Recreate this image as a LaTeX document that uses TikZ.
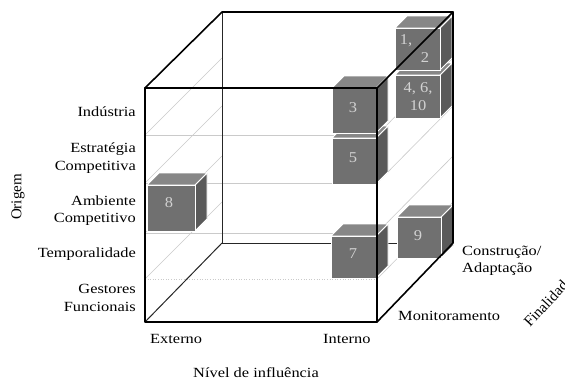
\documentclass[tikz,border=0pt]{standalone}
\usepackage{fontspec}
\setmainfont{Liberation Serif}
\definecolor{cfront}{HTML}{707070}
\definecolor{ctop}{HTML}{878787}
\definecolor{cside}{HTML}{5A5A5A}
\definecolor{cnum}{HTML}{D2D2D2}
\definecolor{cgrid}{HTML}{CACACA}
\newcommand{\gcube}[4]{%
  \filldraw[cubeline,fill=cside] (#3,#2) -- (#3+12,#2-12) -- (#3+12,#4-12) -- (#3,#4) -- cycle;
  \filldraw[cubeline,fill=ctop] (#1,#2) -- (#1+12,#2-12) -- (#3+12,#2-12) -- (#3,#2) -- cycle;
  \filldraw[cubeline,fill=cfront] (#1,#2) rectangle (#3,#4);
}
\begin{document}
\begin{tikzpicture}[x=1pt,y=-1pt,
  cubeline/.style={draw=white,line width=0.9pt},
  edge/.style={line width=1.6pt,line cap=round,line join=round},
  backedge/.style={line width=1.0pt,draw=black!85},
  grid/.style={draw=cgrid,line width=0.6pt},
  lbl/.style={font=\fontsize{14}{16}\selectfont,xscale=1.17,transform shape,inner sep=0pt},
  rlbl/.style={font=\fontsize{15}{16}\selectfont,inner sep=0pt},
  num/.style={font=\fontsize{15}{16}\selectfont,text=cnum,xscale=1.1,transform shape,inner sep=0pt}]
\useasboundingbox (0,0) rectangle (565,381);
\fill[white] (0,0) rectangle (565,381);
% cube corner coordinates
\coordinate (FTL) at (145,88);  \coordinate (FTR) at (377,88);
\coordinate (FBL) at (145,322); \coordinate (FBR) at (377,322);
\coordinate (BTL) at (222,12);  \coordinate (BTR) at (453,12);
\coordinate (BBL) at (222,243); \coordinate (BBR) at (453,243);
% level lines
\foreach \yy in {135,183,233} {
  \draw[grid] (145,\yy) -- (377,\yy);
  \draw[grid] (145,\yy) -- (222,\yy-77);
  \draw[grid] (377,\yy) -- (453,\yy-77);
}
\draw[grid,dotted,line width=0.8pt] (145,279) -- (377,279);
\draw[grid] (145,279) -- (222,202);
\draw[grid] (377,279) -- (453,202);
% hidden edges
\draw[backedge,line width=0.7pt] (BTL) -- (BBL);
\draw[backedge] (BBL) -- (BBR);
\draw[backedge] (FBL) -- (BBL);
% small cubes
\gcube{395}{75}{440}{118}
\gcube{395}{28}{440}{70}
\gcube{397}{217}{441}{258}
\gcube{332}{138}{376}{184}
\gcube{332}{88}{376}{133}
\gcube{331}{236}{376}{278}
\gcube{147}{185}{195}{231}
% numbers
\node[num] (n12a) at (406,41) {1,};
\node[num] (n12b) at (425,58) {2};
\node[num] (n4610a) at (418,89) {4, 6,};
\node[num] (n4610b) at (418,106) {10};
\node[num] (n9) at (418,236) {9};
\node[num] (n5) at (353,158) {5};
\node[num] (n3) at (353,108) {3};
\node[num] (n7) at (353,254) {7};
\node[num] (n8) at (169,203) {8};
% outer edges
\draw[edge] (FTL) -- (FTR) -- (FBR) -- (FBL) -- cycle;
\draw[edge] (FTL) -- (BTL) -- (BTR) -- (FTR);
\draw[edge] (BTR) -- (BBR) -- (FBR);
% left labels
\node[lbl,anchor=base east] (lInd) at (136,116) {Indústria};
\node[lbl,anchor=base east] (lEst1) at (136,152) {Estratégia};
\node[lbl,anchor=base east] (lEst2) at (136,170) {Competitiva};
\node[lbl,anchor=base east] (lAmb1) at (136,205) {Ambiente};
\node[lbl,anchor=base east] (lAmb2) at (136,222) {Competitivo};
\node[lbl,anchor=base east] (lTemp) at (136,257) {Temporalidade};
\node[lbl,anchor=base east] (lGes1) at (136,293) {Gestores};
\node[lbl,anchor=base east] (lGes2) at (136,311) {Funcionais};
\node[rlbl,rotate=90] (lOrig) at (18,197) {Origem};
% bottom labels
\node[lbl,anchor=base west] (lExt) at (150,343) {Externo};
\node[lbl,anchor=base west] (lInt) at (323,343) {Interno};
\node[lbl,anchor=base] (lNiv) at (256,377) {Nível de influência};
% right labels
\node[lbl,anchor=base west] (lCon1) at (462,255) {Construção/};
\node[lbl,anchor=base west] (lCon2) at (462,272) {Adaptação};
\node[lbl,anchor=base west] (lMon) at (398,320) {Monitoramento};
\node[rlbl,anchor=base west,rotate=47] (lFin) at (530,328) {Finalidade};
\end{tikzpicture}
\end{document}
